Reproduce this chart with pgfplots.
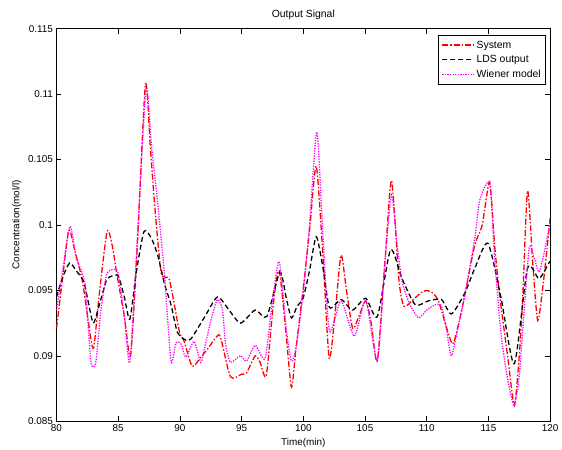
\documentclass[border=0pt]{standalone}
\usepackage{fontspec}
\setmainfont{Liberation Sans}
\usepackage{pgfplots}
\pgfplotsset{compat=1.18}
\definecolor{sysred}{RGB}{255,0,0}
\definecolor{wmag}{RGB}{255,0,255}

\begin{document}
\begin{tikzpicture}
\begin{axis}[
  at={(0,0)}, anchor=south west,
  width=498pt, height=396pt, scale only axis,
  xmin=80, xmax=120, ymin=0.085, ymax=0.115,
  xtick={80,85,...,120},
  ytick={0.085,0.09,0.095,0.1,0.105,0.11,0.115},
  yticklabels={0.085,0.09,0.095,0.1,0.105,0.11,0.115},
  scaled y ticks=false,
  tick align=inside, major tick length=5pt,
  axis line style={line width=0.9pt}, tick style={line width=0.6pt, black},
  /pgf/number format/assume math mode=true,
  ticklabel style={font=\fontsize{10}{12}\selectfont},
  label style={font=\fontsize{10}{12}\selectfont},
  title style={font=\fontsize{10.5}{12}\selectfont},
  title={Output Signal},
  xlabel={Time(min)},
  ylabel={Concentration(mol/l)},
  legend style={at={(0.992,0.983)}, anchor=north east, draw=black, line width=0.8pt,
    font=\fontsize{10.5}{12.5}\selectfont, row sep=2pt, inner xsep=3pt, inner ysep=3pt},
  legend cell align=left,
  legend image code/.code={\draw[#1] (0pt,0pt) -- (32pt,0pt);},
  every axis plot/.append style={line width=1.3pt},
]
\addplot[sysred, dash pattern=on 6pt off 2pt on 1.5pt off 2pt, smooth, tension=0.4] coordinates {
(80.0,0.0921) (80.5,0.0960) (81.0,0.0996) (81.5,0.0980) (82.1,0.0957) (82.6,0.0925)
(83.0,0.0906) (83.5,0.0950) (84.1,0.0995) (84.5,0.0985) (84.9,0.0962) (85.5,0.0930)
(86.0,0.0900) (86.5,0.0975) (87.2,0.1107) (87.6,0.1060) (88.0,0.1010) (88.5,0.0963)
(89.15,0.0958) (89.95,0.0919) (90.35,0.0911) (91.0,0.0892) (91.7,0.0899) (92.3,0.0906)
(93.0,0.0915) (93.3,0.0914) (94.1,0.0884) (95.0,0.0886) (95.4,0.0887) (96.1,0.0900)
(96.5,0.0895) (97.0,0.0885) (97.6,0.0942) (98.05,0.0965) (98.6,0.0917) (99.04,0.0876)
(99.4,0.0905) (100.0,0.0952) (100.5,0.0995) (101.05,0.1045) (101.6,0.0975) (102.1,0.0898)
(102.6,0.0935) (103.06,0.0977) (103.5,0.0950) (104.0,0.0921) (104.5,0.0930) (105.06,0.0942)
(105.5,0.0925) (106.0,0.0896) (106.6,0.0970) (107.15,0.1034) (107.74,0.0959) (108.14,0.0938)
(108.8,0.0942) (109.5,0.0948) (110.0,0.0950) (110.5,0.0948) (110.95,0.0942) (111.5,0.0925)
(112.1,0.0909) (112.6,0.0925) (113.1,0.0947) (113.9,0.0985) (114.5,0.1000) (115.1,0.1033)
(115.5,0.0985) (115.9,0.0947) (116.57,0.0899) (117.1,0.0862) (117.5,0.0900) (117.77,0.0942)
(118.17,0.1026) (118.6,0.0970) (119.0,0.0927) (119.5,0.0960) (120.0,0.1005)
};
\addlegendentry{System}
\addplot[black, dash pattern=on 5pt off 3pt, smooth, tension=0.4] coordinates {
(80.0,0.0945) (80.5,0.0960) (81.07,0.0971) (81.6,0.0965) (82.2,0.0957) (82.6,0.0940)
(82.99,0.0925) (83.5,0.0940) (84.06,0.0958) (84.5,0.0961) (85.0,0.0961) (85.5,0.0945)
(85.94,0.0928) (86.47,0.0964) (87.09,0.0995) (87.68,0.0990) (88.2,0.0977) (88.75,0.0955)
(89.28,0.0939) (89.8,0.0918) (90.48,0.0912) (90.9,0.0913) (91.96,0.0929) (93.03,0.0945)
(93.83,0.0937) (94.9,0.0925) (96.1,0.0935) (97.04,0.0930) (98.1,0.0964) (98.6,0.0945)
(99.04,0.0929) (99.5,0.0938) (99.98,0.0944) (100.5,0.0965) (101.05,0.0991) (101.6,0.0967)
(102.12,0.0937) (103.06,0.0943) (104.0,0.0935) (105.06,0.0944) (106.0,0.0930) (107.07,0.0981)
(108.0,0.0959) (109.08,0.0939) (110.14,0.0942) (111.2,0.0943) (112.0,0.0932) (113.09,0.0948)
(113.9,0.0967) (114.96,0.0986) (116.03,0.0944) (117.1,0.0894) (118.17,0.0967) (119.1,0.0959)
(119.9,0.0971) (120.0,0.0972)
};
\addlegendentry{LDS output}
\addplot[wmag, dash pattern=on 1.3pt off 1.3pt, smooth, tension=0.4] coordinates {
(80.0,0.0935) (80.5,0.0965) (81.1,0.0999) (81.6,0.0975) (82.3,0.0955) (82.8,0.0895)
(83.2,0.0896) (83.6,0.0935) (84.06,0.0962) (84.6,0.0966) (85.0,0.0963) (85.5,0.0930)
(85.94,0.0895) (86.5,0.0980) (87.25,0.1104) (87.7,0.1060) (88.2,0.1017) (88.75,0.0962)
(89.28,0.0896) (89.68,0.0910) (90.1,0.0909) (90.48,0.0899) (91.15,0.0911) (91.69,0.0895)
(92.0,0.0906) (92.49,0.0926) (93.03,0.0943) (93.45,0.0935) (93.7,0.0909) (94.1,0.0895)
(94.9,0.0900) (95.4,0.0896) (96.1,0.0908) (96.9,0.0898) (97.5,0.0942) (98.05,0.0972)
(98.64,0.0919) (99.04,0.0896) (99.4,0.0906) (99.98,0.0947) (100.5,0.1000) (101.1,0.1071)
(101.6,0.0990) (102.12,0.0919) (103.06,0.0942) (104.13,0.0915) (105.06,0.0942) (106.0,0.0896)
(106.6,0.0970) (107.15,0.1023) (107.6,0.0985) (108.0,0.0957) (108.6,0.0940) (109.34,0.0929)
(110.0,0.0935) (110.68,0.0939) (111.2,0.0938) (111.6,0.0920) (112.0,0.0900) (112.5,0.0920)
(113.1,0.0947) (113.9,0.0990) (114.3,0.1019) (115.1,0.1032) (115.5,0.0975) (116.03,0.0916)
(116.6,0.0880) (117.1,0.0862) (117.5,0.0885) (117.77,0.0918) (118.3,0.0982) (118.7,0.0975)
(119.1,0.0964) (119.5,0.0978) (120.0,0.1002)
};
\addlegendentry{Wiener model}
\end{axis}
\pgfresetboundingbox
\path[use as bounding box] (-57pt,-29pt) rectangle (510pt,425pt);
\end{tikzpicture}
\end{document}
